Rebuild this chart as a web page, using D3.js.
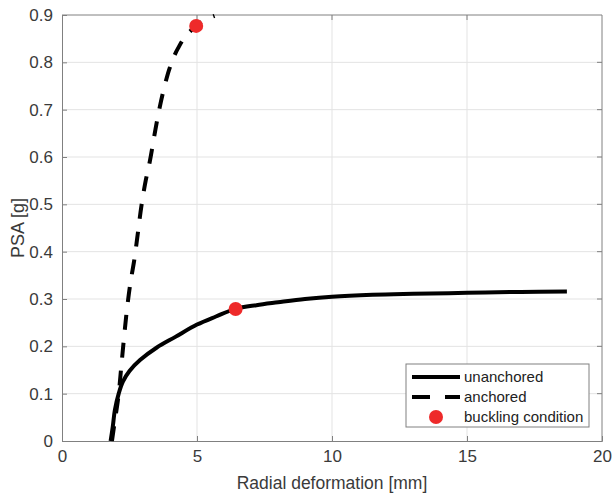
<!DOCTYPE html>
<html>
<head>
<meta charset="utf-8">
<script src="https://cdn.jsdelivr.net/npm/d3@7"></script>
<style>
  body { margin: 0; background: #fff; }
  svg text { font-family: "Liberation Sans", Arial, sans-serif; }
</style>
</head>
<body>
<svg id="chart" width="612" height="494"></svg>
<script>
// values
const unanchored = [
  [1.8, 0], [1.88, 0.03], [1.96, 0.066], [2.1, 0.1], [2.25, 0.125], [2.5, 0.148],
  [2.89, 0.171], [3.5, 0.197], [4.2, 0.22], [5.0, 0.246], [5.7, 0.263], [6.43, 0.279],
  [7.2, 0.287], [8.0, 0.293], [9.0, 0.3], [10.0, 0.305], [11.5, 0.309], [13.0, 0.311],
  [15.0, 0.313], [17.0, 0.315], [18.7, 0.316]
];
const anchored = [
  [1.85, 0], [1.95, 0.04], [2.08, 0.09], [2.2, 0.16], [2.3, 0.22], [2.43, 0.29],
  [2.55, 0.34], [2.67, 0.38], [2.8, 0.435], [2.95, 0.5], [3.1, 0.55], [3.25, 0.59],
  [3.42, 0.645], [3.6, 0.7], [3.8, 0.75], [4.0, 0.79], [4.3, 0.83], [4.65, 0.86],
  [5.0, 0.878], [5.3, 0.89], [5.65, 0.898]
];
const buckling = [[4.97, 0.877], [6.43, 0.279]];
const xTicks = [0, 5, 10, 15, 20];
const yTicks = [0, 0.1, 0.2, 0.3, 0.4, 0.5, 0.6, 0.7, 0.8, 0.9];
const legendItems = ['unanchored', 'anchored', 'buckling condition'];

const svg = d3.select('#chart');
const pLeft = 62, pRight = 602, pTop = 15, pBottom = 441;

const x = d3.scaleLinear().domain([0, 20]).range([pLeft, pRight]);
const y = d3.scaleLinear().domain([0, 0.9]).range([pBottom, pTop]);

// grid
svg.append('g').selectAll('line').data(xTicks.slice(1, -1)).join('line')
  .attr('x1', d => x(d)).attr('x2', d => x(d))
  .attr('y1', pTop).attr('y2', pBottom)
  .attr('stroke', '#e3e3e3').attr('stroke-width', 1);
svg.append('g').selectAll('line').data(yTicks.slice(1, -1)).join('line')
  .attr('x1', pLeft).attr('x2', pRight)
  .attr('y1', d => y(d)).attr('y2', d => y(d))
  .attr('stroke', '#e3e3e3').attr('stroke-width', 1);

// axes
const xAxis = svg.append('g')
  .attr('transform', `translate(0,${pBottom})`)
  .call(d3.axisBottom(x).tickValues(xTicks).tickSize(-5).tickPadding(9).tickFormat(d3.format('d')));
const yAxis = svg.append('g')
  .attr('transform', `translate(${pLeft},0)`)
  .call(d3.axisLeft(y).tickValues(yTicks).tickSize(-5).tickPadding(9).tickFormat(d => d === 0 ? '0' : d3.format('.1f')(d)));

[xAxis, yAxis].forEach(a => {
  a.select('.domain').attr('stroke', '#808080');
  a.selectAll('.tick line').attr('stroke', '#808080');
  a.selectAll('.tick text').attr('fill', '#3a3a3a').style('font-size', '17px');
});

// top / right frame
svg.append('line').attr('x1', pLeft).attr('x2', pRight).attr('y1', pTop).attr('y2', pTop)
  .attr('stroke', '#808080');
svg.append('line').attr('x1', pRight).attr('x2', pRight).attr('y1', pTop).attr('y2', pBottom)
  .attr('stroke', '#808080');
svg.append('g').selectAll('line').data(xTicks.slice(1, -1)).join('line')
  .attr('x1', d => x(d)).attr('x2', d => x(d)).attr('y1', pTop).attr('y2', pTop + 5)
  .attr('stroke', '#808080');
svg.append('g').selectAll('line').data(yTicks.slice(1, -1)).join('line')
  .attr('x1', pRight - 5).attr('x2', pRight).attr('y1', d => y(d)).attr('y2', d => y(d))
  .attr('stroke', '#808080');

// curves
svg.append('path').datum(unanchored)
  .attr('d', d3.line().x(d => x(d[0])).y(d => y(d[1])).curve(d3.curveCatmullRom))
  .attr('fill', 'none')
  .attr('stroke', '#000').attr('stroke-width', 4);

svg.append('path').datum(anchored)
  .attr('d', d3.line().x(d => x(d[0])).y(d => y(d[1])).curve(d3.curveMonotoneY))
  .attr('fill', 'none')
  .attr('stroke', '#000').attr('stroke-width', 4)
  .attr('stroke-dasharray', '15,13');

// markers
svg.append('g').selectAll('circle').data(buckling).join('circle')
  .attr('cx', d => x(d[0])).attr('cy', d => y(d[1]))
  .attr('r', 7).attr('fill', '#ee2a2a');

// axis labels
svg.append('text')
  .attr('x', (pLeft + pRight) / 2).attr('y', 489)
  .attr('text-anchor', 'middle')
  .attr('fill', '#3a3a3a').style('font-size', '17.5px')
  .text('Radial deformation [mm]');
svg.append('text')
  .attr('transform', `translate(24,${(pTop + pBottom) / 2}) rotate(-90)`)
  .attr('text-anchor', 'middle')
  .attr('fill', '#3a3a3a').style('font-size', '18px')
  .text('PSA [g]');

// legend
const lg = svg.append('g');
lg.append('rect')
  .attr('x', 406).attr('y', 364).attr('width', 183).attr('height', 63)
  .attr('fill', '#fff').attr('stroke', '#808080').attr('stroke-width', 1);
const rowY = [377, 397, 417];
legendItems.forEach((name, i) => {
  const yy = rowY[i];
  if (i === 0) {
    lg.append('line').attr('x1', 412).attr('x2', 460).attr('y1', yy).attr('y2', yy)
      .attr('stroke', '#000').attr('stroke-width', 4);
  } else if (i === 1) {
    lg.append('line').attr('x1', 412).attr('x2', 460).attr('y1', yy).attr('y2', yy)
      .attr('stroke', '#000').attr('stroke-width', 4).attr('stroke-dasharray', '18,15');
  } else {
    lg.append('circle').attr('cx', 436).attr('cy', yy).attr('r', 7).attr('fill', '#ee2a2a');
  }
  lg.append('text').attr('x', 464).attr('y', yy + 5)
    .attr('fill', '#222').style('font-size', '15px')
    .text(name);
});
</script>
</body>
</html>
